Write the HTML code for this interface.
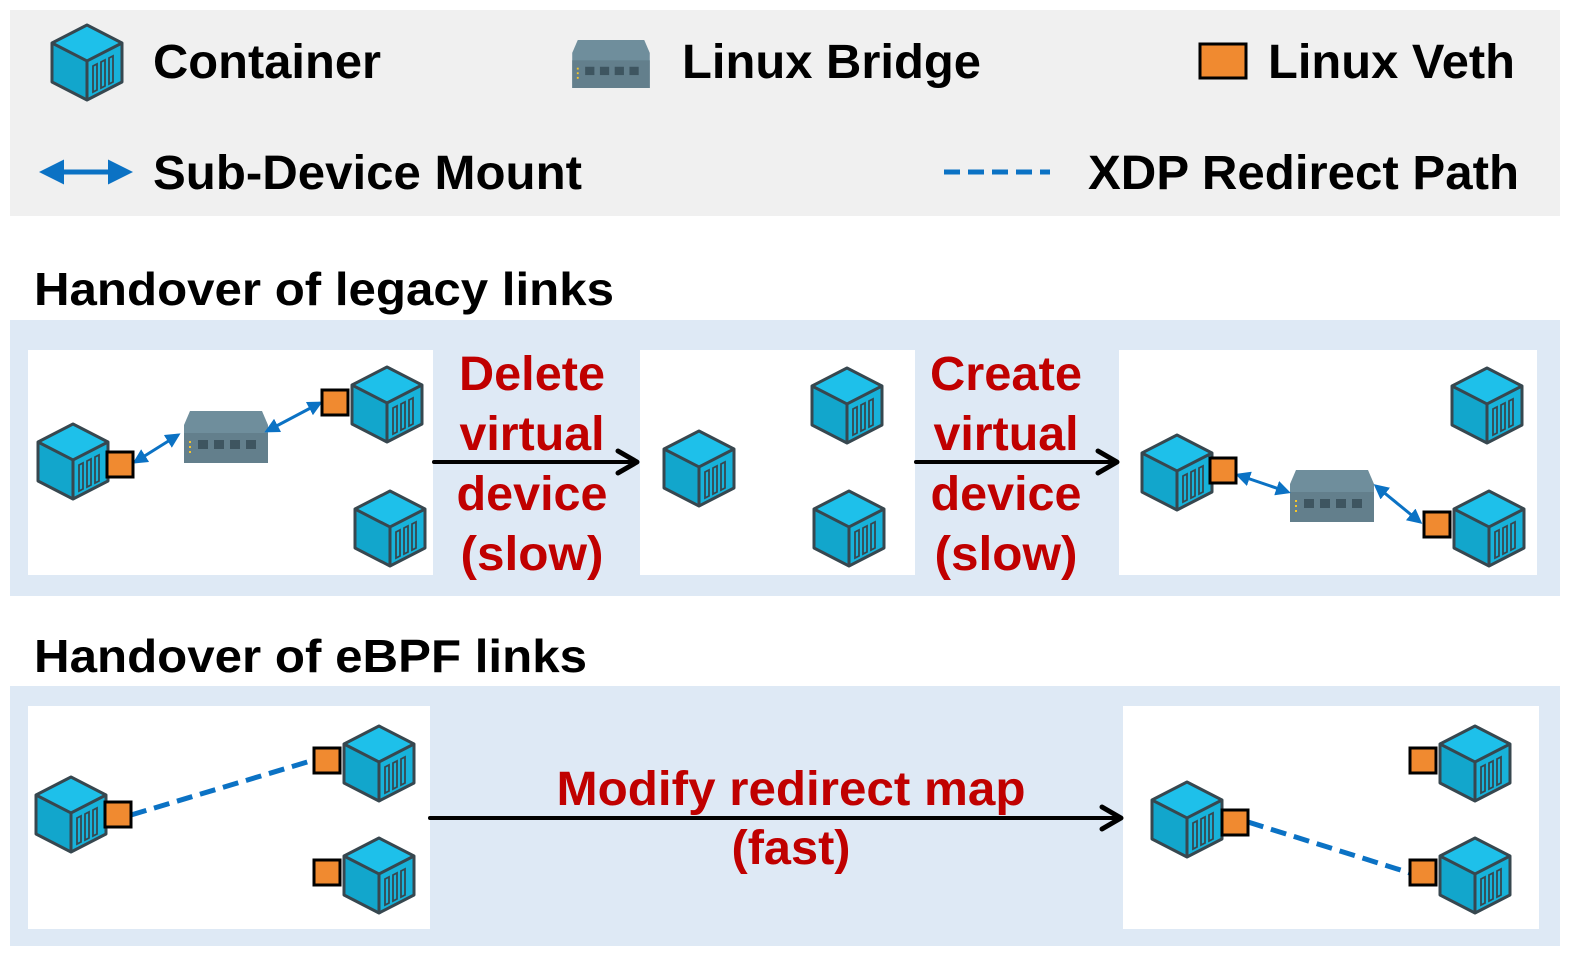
<!DOCTYPE html>
<html><head><meta charset="utf-8"><style>
html,body{margin:0;padding:0;background:#fff;overflow:hidden;}
svg{display:block;}
text{font-family:"Liberation Sans",Arial,sans-serif;font-weight:bold;}
</style></head><body>
<svg width="1579" height="959" viewBox="0 0 1579 959" xmlns="http://www.w3.org/2000/svg">
<defs>
<symbol id="c" viewBox="0 0 76 80">
<polygon points="38,3 73,21 73,60 38,78 3,60 3,21" fill="#1ec0ea"/>
<polygon points="3,21 38,39 38,78 3,60" fill="#12a6cc"/>
<polygon points="38,39 73,21 73,60 38,78" fill="#17b2da"/>
<polygon points="38,3 73,21 73,60 38,78 3,60 3,21" fill="none" stroke="#37474f" stroke-width="3" stroke-linejoin="round"/>
<polyline points="3,21 38,39 73,21" fill="none" stroke="#37474f" stroke-width="3"/>
<line x1="38" y1="39" x2="38" y2="78" stroke="#37474f" stroke-width="3"/>
<g fill="none" stroke="#37474f" stroke-width="1.8">
<polygon points="44,44 48,42 48,68 44,70"/><polygon points="52,40 56,38 56,64 52,66"/><polygon points="60,36 64,34 64,60 60,62"/>
</g>
</symbol>
<symbol id="b" viewBox="0 0 84 52">
<polygon points="6,0 78,0 84,14 84,52 0,52 0,14" fill="#6f8e9c"/>
<rect x="0" y="22" width="84" height="30" fill="#637f8c"/>
<g fill="#3e5560"><rect x="14" y="29" width="10" height="9"/><rect x="30" y="29" width="10" height="9"/><rect x="46" y="29" width="10" height="9"/><rect x="62" y="29" width="10" height="9"/></g>
<g fill="#f5c52c"><rect x="5" y="30" width="2" height="2"/><rect x="5" y="35" width="2" height="2"/><rect x="5" y="40" width="2" height="2"/></g>
</symbol>
<marker id="ba" viewBox="0 0 10 10" refX="8" refY="5" markerWidth="5" markerHeight="5" orient="auto-start-reverse"><path d="M0,0 L10,5 L0,10 z" fill="#0b72c4"/></marker>
</defs>
<!-- legend -->
<rect x="10" y="10" width="1550" height="206" fill="#f0f0f0"/>
<use href="#c" x="48" y="22" width="78" height="80"/>
<text x="153" y="78" font-size="48" textLength="228" lengthAdjust="spacingAndGlyphs">Container</text>
<use href="#b" x="572" y="40" width="78" height="48"/>
<text x="682" y="78" font-size="48" textLength="299" lengthAdjust="spacingAndGlyphs">Linux Bridge</text>
<rect x="1200" y="44" width="46" height="34" fill="#f08a30" stroke="#000" stroke-width="3"/>
<text x="1268" y="78" font-size="48" textLength="247" lengthAdjust="spacingAndGlyphs">Linux Veth</text>
<line x1="44" y1="172" x2="128" y2="172" stroke="#0b72c4" stroke-width="5" marker-start="url(#ba)" marker-end="url(#ba)"/>
<text x="153" y="189" font-size="48" textLength="429" lengthAdjust="spacingAndGlyphs">Sub-Device Mount</text>
<line x1="944" y1="172" x2="1050" y2="172" stroke="#0b72c4" stroke-width="5" stroke-dasharray="16,8"/>
<text x="1088" y="189" font-size="48" textLength="431" lengthAdjust="spacingAndGlyphs">XDP Redirect Path</text>
<!-- headers -->
<text x="34" y="305" font-size="46" textLength="580" lengthAdjust="spacingAndGlyphs">Handover of legacy links</text>
<text x="34" y="672" font-size="46" textLength="553" lengthAdjust="spacingAndGlyphs">Handover of eBPF links</text>
<!-- bands -->
<rect x="10" y="320" width="1550" height="276" fill="#dee9f5"/>
<rect x="10" y="686" width="1550" height="260" fill="#dee9f5"/>
<rect x="28" y="350" width="405" height="225" fill="#fff"/>
<rect x="640" y="350" width="275" height="225" fill="#fff"/>
<rect x="1119" y="350" width="418" height="225" fill="#fff"/>
<rect x="28" y="706" width="402" height="223" fill="#fff"/>
<rect x="1123" y="706" width="416" height="223" fill="#fff"/>
<!-- panel1 -->
<use href="#c" x="35" y="421" width="76" height="80"/>
<use href="#c" x="349" y="364" width="76" height="80"/>
<use href="#c" x="352" y="488" width="76" height="80"/>
<use href="#b" x="184" y="411" width="84" height="52"/>
<line x1="135" y1="462" x2="178" y2="435" stroke="#0b72c4" stroke-width="3" marker-start="url(#ba)" marker-end="url(#ba)"/>
<line x1="267" y1="431" x2="320" y2="403" stroke="#0b72c4" stroke-width="3" marker-start="url(#ba)" marker-end="url(#ba)"/>
<rect x="107" y="452" width="26" height="25" fill="#f08a30" stroke="#000" stroke-width="3"/>
<rect x="322" y="390" width="26" height="25" fill="#f08a30" stroke="#000" stroke-width="3"/>
<!-- panel2 -->
<use href="#c" x="661" y="428" width="76" height="80"/>
<use href="#c" x="809" y="365" width="76" height="80"/>
<use href="#c" x="811" y="488" width="76" height="80"/>
<!-- panel3 -->
<use href="#c" x="1139" y="432" width="76" height="80"/>
<use href="#c" x="1449" y="365" width="76" height="80"/>
<use href="#c" x="1451" y="488" width="76" height="80"/>
<use href="#b" x="1290" y="470" width="84" height="52"/>
<line x1="1238" y1="475" x2="1288" y2="492" stroke="#0b72c4" stroke-width="3" marker-start="url(#ba)" marker-end="url(#ba)"/>
<line x1="1376" y1="486" x2="1420" y2="522" stroke="#0b72c4" stroke-width="3" marker-start="url(#ba)" marker-end="url(#ba)"/>
<rect x="1210" y="458" width="26" height="25" fill="#f08a30" stroke="#000" stroke-width="3"/>
<rect x="1424" y="512" width="26" height="25" fill="#f08a30" stroke="#000" stroke-width="3"/>
<!-- black arrows -->
<g stroke="#000" stroke-width="4" fill="none" stroke-linecap="round" stroke-linejoin="round">
<line x1="434" y1="462" x2="635" y2="462"/>
<polyline points="618,451 637,462 618,473" stroke-width="5"/>
<line x1="916" y1="462" x2="1115" y2="462"/>
<polyline points="1098,451 1117,462 1098,473" stroke-width="5"/>
<line x1="430" y1="818" x2="1119" y2="818"/>
<polyline points="1102,807 1121,818 1102,829" stroke-width="5"/>
</g>
<g fill="#c00000" font-size="48" text-anchor="middle">
<text x="532" y="390" textLength="146" lengthAdjust="spacingAndGlyphs">Delete</text>
<text x="532" y="450" textLength="145" lengthAdjust="spacingAndGlyphs">virtual</text>
<text x="532" y="510" textLength="151" lengthAdjust="spacingAndGlyphs">device</text>
<text x="532" y="570" textLength="143" lengthAdjust="spacingAndGlyphs">(slow)</text>
<text x="1006" y="390" textLength="152" lengthAdjust="spacingAndGlyphs">Create</text>
<text x="1006" y="450" textLength="145" lengthAdjust="spacingAndGlyphs">virtual</text>
<text x="1006" y="510" textLength="151" lengthAdjust="spacingAndGlyphs">device</text>
<text x="1006" y="570" textLength="143" lengthAdjust="spacingAndGlyphs">(slow)</text>
<text x="791" y="805" textLength="469" lengthAdjust="spacingAndGlyphs">Modify redirect map</text>
<text x="791" y="864" textLength="119" lengthAdjust="spacingAndGlyphs">(fast)</text>
</g>
<!-- panel4 -->
<use href="#c" x="33" y="774" width="76" height="80"/>
<use href="#c" x="341" y="723" width="76" height="80"/>
<use href="#c" x="341" y="835" width="76" height="80"/>
<line x1="131" y1="815" x2="314" y2="760" stroke="#0b72c4" stroke-width="5" stroke-dasharray="16,8"/>
<rect x="105" y="802" width="26" height="25" fill="#f08a30" stroke="#000" stroke-width="3"/>
<rect x="314" y="748" width="26" height="25" fill="#f08a30" stroke="#000" stroke-width="3"/>
<rect x="314" y="860" width="26" height="25" fill="#f08a30" stroke="#000" stroke-width="3"/>
<!-- panel5 -->
<use href="#c" x="1149" y="779" width="76" height="80"/>
<use href="#c" x="1437" y="723" width="76" height="80"/>
<use href="#c" x="1437" y="835" width="76" height="80"/>
<line x1="1248" y1="822" x2="1410" y2="873" stroke="#0b72c4" stroke-width="5" stroke-dasharray="16,8"/>
<rect x="1222" y="810" width="26" height="25" fill="#f08a30" stroke="#000" stroke-width="3"/>
<rect x="1410" y="748" width="26" height="25" fill="#f08a30" stroke="#000" stroke-width="3"/>
<rect x="1410" y="860" width="26" height="25" fill="#f08a30" stroke="#000" stroke-width="3"/>
</svg>
</body></html>
